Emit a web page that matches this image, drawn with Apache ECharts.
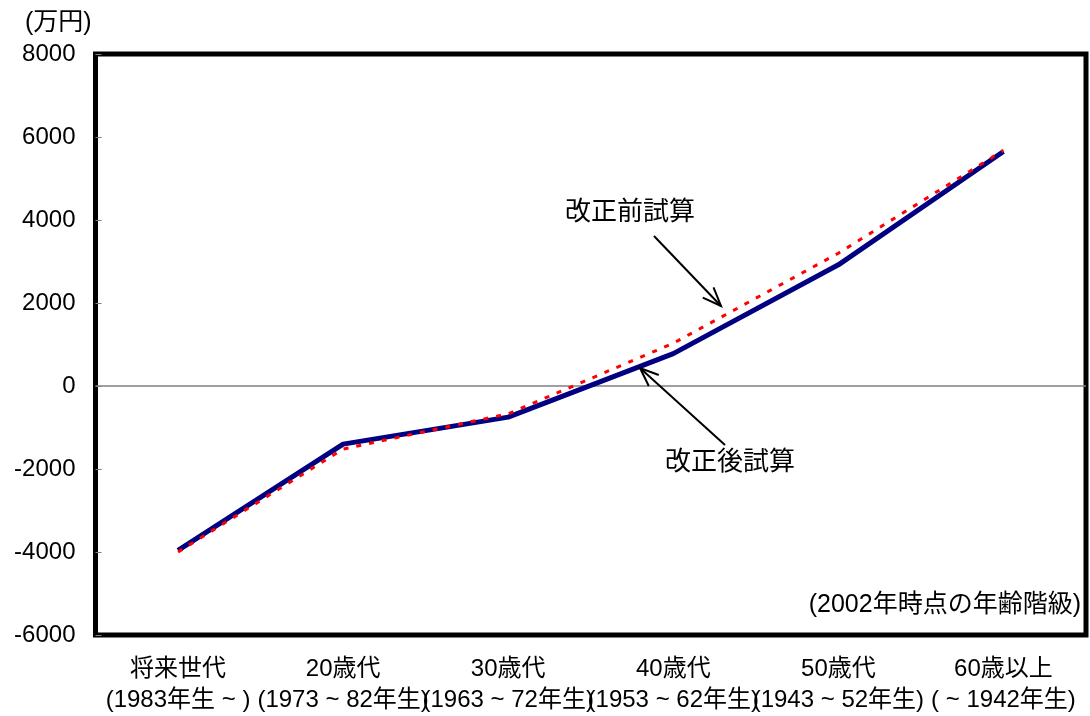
<!DOCTYPE html>
<html>
<head>
<meta charset="utf-8">
<script src="https://cdn.jsdelivr.net/npm/echarts@6/dist/echarts.min.js"></script>
<style>
html,body{margin:0;padding:0;background:#fff;}
#chart{width:1090px;height:716px;}
</style>
</head>
<body>
<div id="chart"></div>
<script>
const ageGroups = ['将来世代', '20歳代', '30歳代', '40歳代', '50歳代', '60歳以上'];
const birthYears = ['(1983年生 ~ )', '(1973 ~ 82年生)', '(1963 ~ 72年生)', '(1953 ~ 62年生)', '(1943 ~ 52年生)', '( ~ 1942年生)'];
const afterReform = [-3960, -1400, -750, 780, 2920, 5650];   // 改正後試算
const beforeReform = [-4000, -1520, -670, 1030, 3200, 5680]; // 改正前試算
const yTicks = { min: -6000, max: 8000, interval: 2000 };

const FONT = "'Liberation Sans', 'Noto Sans CJK JP', sans-serif";
const categories = ageGroups.map((a, i) => a + '\n' + birthYears[i]);

const chart = echarts.init(document.getElementById('chart'));

function arrow(x1, y1, x2, y2, len, ang) {
  const a = Math.atan2(y2 - y1, x2 - x1);
  const p1 = [x2 - len * Math.cos(a - ang), y2 - len * Math.sin(a - ang)];
  const p2 = [x2 - len * Math.cos(a + ang), y2 - len * Math.sin(a + ang)];
  const style = { stroke: '#000', lineWidth: 2 };
  return [
    { type: 'line', shape: { x1, y1, x2, y2 }, style, z: 100 },
    { type: 'polyline', shape: { points: [p1, [x2, y2], p2] }, style: Object.assign({ fill: null }, style), z: 100 }
  ];
}

chart.setOption({
  animation: false,
  backgroundColor: '#fff',
  grid: {
    left: 95.5, right: 4, top: 54, bottom: 80.5,
    show: true, borderColor: '#000', borderWidth: 5, backgroundColor: 'transparent',
    containLabel: false
  },
  xAxis: {
    type: 'category',
    data: categories,
    boundaryGap: true,
    axisLine: { show: false, onZero: false },
    axisTick: { show: false },
    axisLabel: {
      interval: 0, color: '#000', fontSize: 24, fontFamily: FONT,
      lineHeight: 31, margin: 19, hideOverlap: false
    },
    splitLine: { show: false }
  },
  yAxis: {
    type: 'value',
    min: yTicks.min, max: yTicks.max, interval: yTicks.interval,
    axisLine: { show: false },
    axisTick: { show: true, inside: true, length: 6, lineStyle: { color: '#808080', width: 1 } },
    axisLabel: { color: '#000', fontSize: 24, fontFamily: FONT, margin: 20, formatter: v => String(v) },
    splitLine: { show: false }
  },
  series: [
    {
      name: '改正後試算',
      type: 'line',
      data: afterReform,
      symbol: 'none',
      lineStyle: { color: '#000080', width: 5 },
      z: 3,
      markLine: {
        silent: true,
        symbol: ['none', 'none'],
        label: { show: false },
        lineStyle: { color: '#808080', width: 1.5, type: 'solid' },
        data: [{ yAxis: 0 }],
        z: 1
      }
    },
    {
      name: '改正前試算',
      type: 'line',
      data: beforeReform,
      symbol: 'none',
      lineStyle: { color: '#ff0000', width: 3, type: [5, 8] },
      z: 4
    }
  ],
  graphic: [
    { type: 'text', left: 25, top: 11, style: { text: '(万円)', font: "25px " + FONT, fill: '#000' } },
    { type: 'text', x: 565, y: 213, style: { text: '改正前試算', font: "26px " + FONT, fill: '#000', verticalAlign: 'middle' } },
    { type: 'text', x: 665, y: 463, style: { text: '改正後試算', font: "26px " + FONT, fill: '#000', verticalAlign: 'middle' } },
    { type: 'text', x: 1081, y: 605, style: { text: '(2002年時点の年齢階級)', font: "25px " + FONT, fill: '#000', align: 'right', verticalAlign: 'middle' } }
  ].concat(arrow(654, 236, 721, 306, 20, 0.38)).concat(arrow(725, 445, 640, 368, 20, 0.38))
});
</script>
</body>
</html>
